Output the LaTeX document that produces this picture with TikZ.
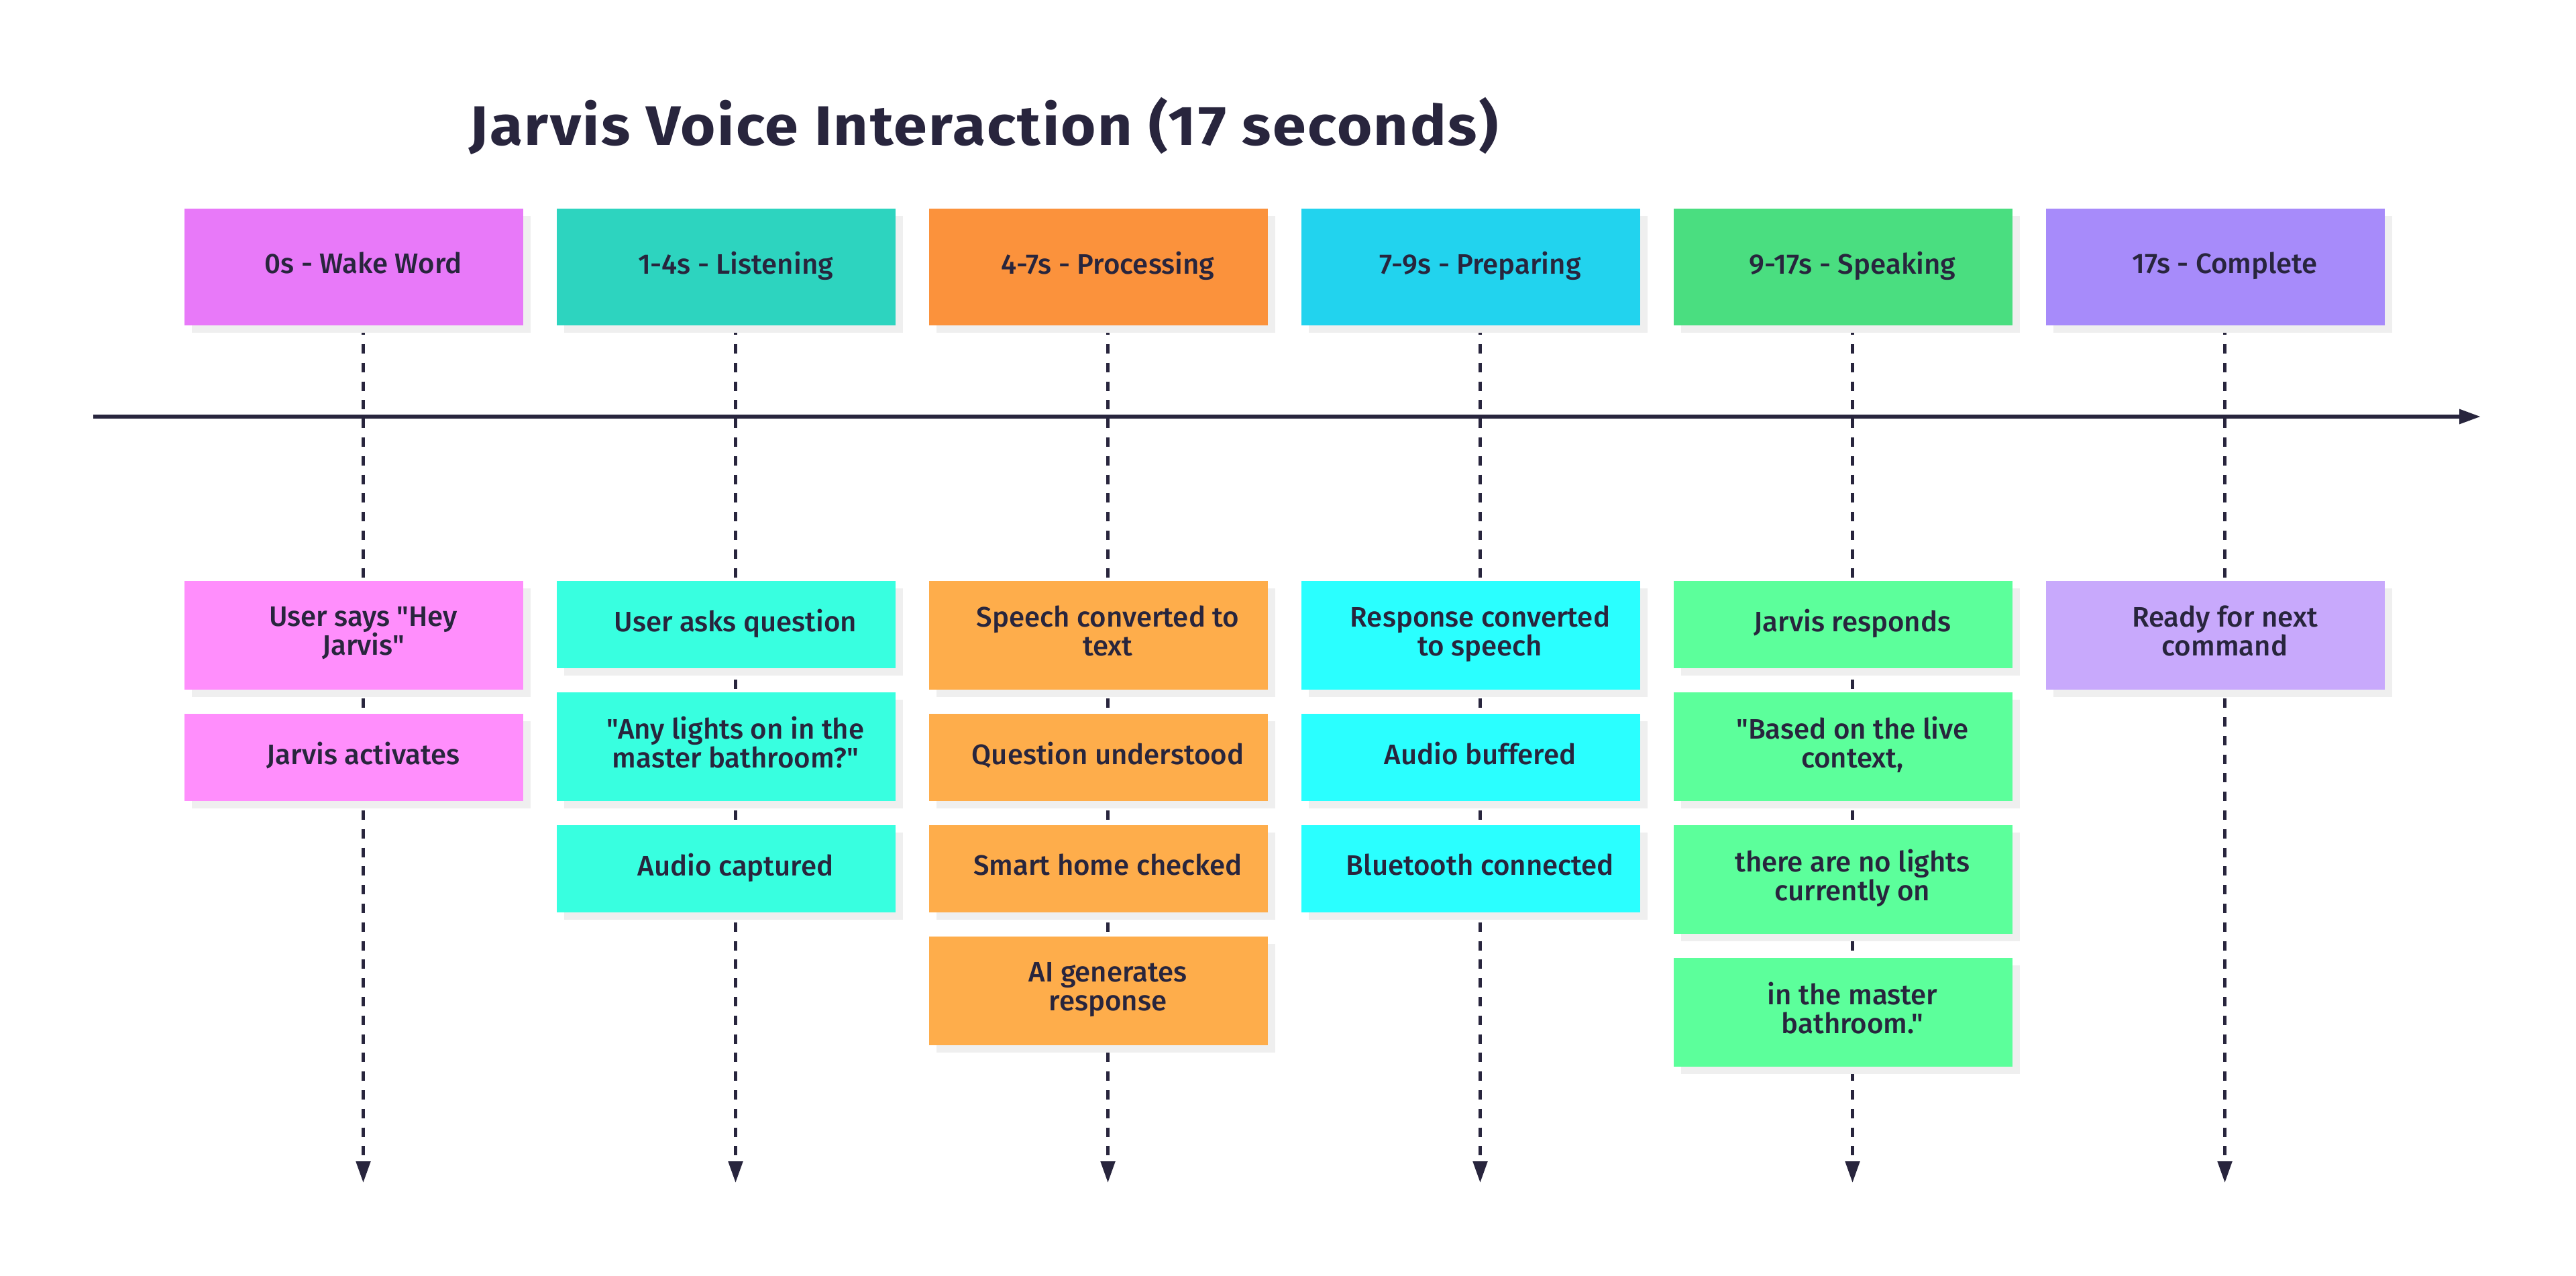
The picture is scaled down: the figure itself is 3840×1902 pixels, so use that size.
\documentclass[tikz,border=0pt]{standalone}
\usepackage{fontspec}
\setmainfont{Fira Sans}[Ligatures=TeXOff,UprightFont={* Medium},BoldFont={* Bold}]
\usetikzlibrary{arrows.meta,shadows}
\pgfdeclarelayer{bg}
\pgfsetlayers{bg,main}

\definecolor{ink}{HTML}{28253D}
\definecolor{shadowc}{HTML}{EFEFEF}
% phase header colours
\definecolor{hA}{HTML}{E879F9}
\definecolor{hB}{HTML}{2DD4BF}
\definecolor{hC}{HTML}{FB923C}
\definecolor{hD}{HTML}{22D3EE}
\definecolor{hE}{HTML}{4ADE80}
\definecolor{hF}{HTML}{A78BFA}
% event box colours
\definecolor{lA}{HTML}{FF8EFC}
\definecolor{lB}{HTML}{38FFE0}
\definecolor{lC}{HTML}{FEAD4B}
\definecolor{lD}{HTML}{2AFFFF}
\definecolor{lE}{HTML}{5CFF9B}
\definecolor{lF}{HTML}{C8A9FC}

% a coloured box (offset a little left of its column) with its centred label
\newcommand{\tbox}[6]{%
  \node[#2, fill=#3] (#1) at ({#4-14},#5) {};
  \node[lbl] (#1t) at (#4,#5) {#6};}

\begin{document}
\begin{tikzpicture}[x=1pt,y=-1pt,
  box/.style={rectangle, inner sep=0pt, minimum width=505pt, draw=none,
    drop shadow={shadow xshift=11pt, shadow yshift=-11pt, fill=shadowc, opacity=1}},
  hdr/.style={box, minimum height=174pt},
  one/.style={box, minimum height=130pt},
  two/.style={box, minimum height=162pt},
  lbl/.style={inner sep=0pt, align=center, text=ink,
    font=\fontsize{42}{43}\selectfont,
    execute at begin node=\strut, execute at end node=\strut},
  vline/.style={draw=ink, line width=5pt, dash pattern=on 13.9pt off 13.9pt,
    -{Triangle[length=32pt,width=21pt]}},
  axisline/.style={draw=ink, line width=6pt, -{Triangle[length=32pt,width=21pt]}}
]
\useasboundingbox (0,0) rectangle (3840,1902);

\node[anchor=base west, inner sep=0pt, text=ink,
  font=\bfseries\fontsize{83}{90}\selectfont\addfontfeatures{FakeStretch=1.08,LetterSpace=3}] (title) at (699,217)
  {Jarvis Voice Interaction (17 seconds)};

% column positions
\def\cA{541.5}
\def\cB{1096.5}
\def\cC{1651.5}
\def\cD{2206.5}
\def\cE{2761.5}
\def\cF{3316.5}

% phase headers
\tbox{hdA}{hdr}{hA}{\cA}{398}{0s - Wake Word}
\tbox{hdB}{hdr}{hB}{\cB}{398}{1-4s - Listening}
\tbox{hdC}{hdr}{hC}{\cC}{398}{4-7s - Processing}
\tbox{hdD}{hdr}{hD}{\cD}{398}{7-9s - Preparing}
\tbox{hdE}{hdr}{hE}{\cE}{398}{9-17s - Speaking}
\tbox{hdF}{hdr}{hF}{\cF}{398}{17s - Complete}

% wake word
\tbox{aA}{two}{lA}{\cA}{947}{User says "Hey\\Jarvis"}
\tbox{aB}{one}{lA}{\cA}{1129}{Jarvis activates}
% listening
\tbox{bA}{one}{lB}{\cB}{931}{User asks question}
\tbox{bB}{two}{lB}{\cB}{1113}{"Any lights on in the\\master bathroom?"}
\tbox{bC}{one}{lB}{\cB}{1295}{Audio captured}
% processing
\tbox{cA}{two}{lC}{\cC}{947}{Speech converted to\\text}
\tbox{cB}{one}{lC}{\cC}{1129}{Question understood}
\tbox{cC}{one}{lC}{\cC}{1295}{Smart home checked}
\tbox{cD}{two}{lC}{\cC}{1477}{AI generates\\response}
% preparing
\tbox{dA}{two}{lD}{\cD}{947}{Response converted\\to speech}
\tbox{dB}{one}{lD}{\cD}{1129}{Audio buffered}
\tbox{dC}{one}{lD}{\cD}{1295}{Bluetooth connected}
% speaking
\tbox{eA}{one}{lE}{\cE}{931}{Jarvis responds}
\tbox{eB}{two}{lE}{\cE}{1113}{"Based on the live\\context,}
\tbox{eC}{two}{lE}{\cE}{1311}{there are no lights\\currently on}
\tbox{eD}{two}{lE}{\cE}{1509}{in the master\\bathroom."}
% complete
\tbox{fA}{two}{lF}{\cF}{947}{Ready for next\\command}

% arrow ends and axis ends
\coordinate (endA) at (\cA,1763);
\coordinate (endB) at (\cB,1763);
\coordinate (endC) at (\cC,1763);
\coordinate (endD) at (\cD,1763);
\coordinate (endE) at (\cE,1763);
\coordinate (endF) at (\cF,1763);
\coordinate (axL) at (139,621);
\coordinate (axR) at (3698,621);

\begin{pgfonlayer}{bg}
  \fill[white] (0,0) rectangle (3840,1902);
  \draw[axisline] (axL) -- (axR);
  \foreach \n in {A,B,C,D,E,F}
    \draw[vline] (hd\n t |- hd\n.south) -- (end\n);
\end{pgfonlayer}
\end{tikzpicture}
\end{document}
